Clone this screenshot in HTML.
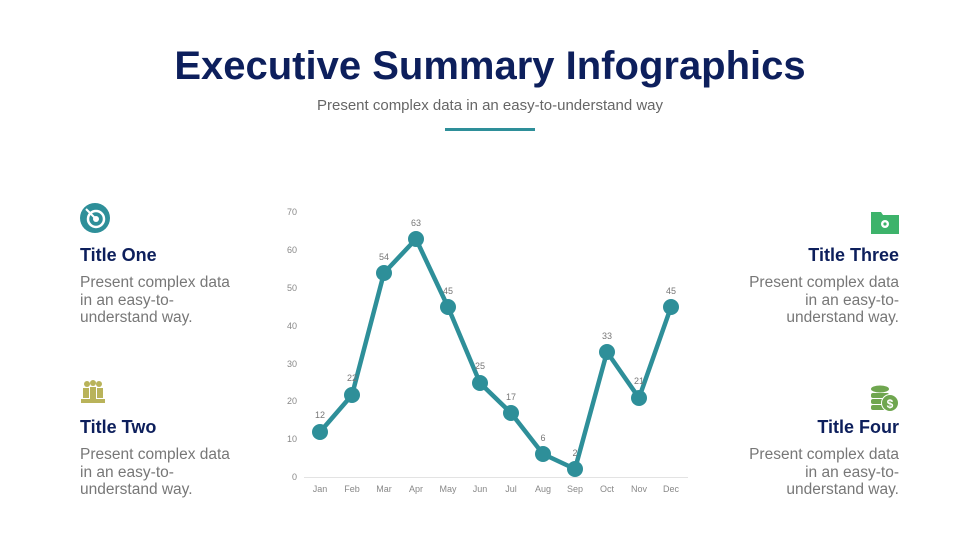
<!DOCTYPE html>
<html><head><meta charset="utf-8"><style>
body{margin:0;width:980px;height:551px;background:#fff;font-family:"Liberation Sans",sans-serif;position:relative;overflow:hidden}
.t{position:absolute;left:0;width:980px;text-align:center}
.h{position:absolute;font-weight:bold;color:#0d1f5c;font-size:18px}
.p{position:absolute;color:#777;font-size:15.5px;line-height:17.5px}
.r{text-align:right}
</style></head><body>
<div class="t" style="top:44px;font-size:40px;font-weight:bold;color:#0d1f5c">Executive Summary Infographics</div>
<div class="t" style="top:97px;font-size:15px;color:#666">Present complex data in an easy-to-understand way</div>
<div style="position:absolute;left:445px;top:128px;width:90px;height:3px;background:#2e8f99"></div>

<svg style="position:absolute;left:79px;top:202px" width="32" height="32" viewBox="0 0 32 32"><circle cx="16" cy="16" r="15" fill="#2e8f99"/><circle cx="17" cy="17" r="8" fill="none" stroke="#fff" stroke-width="2.5"/><circle cx="17" cy="17" r="3" fill="#fff"/><line x1="7" y1="7" x2="16" y2="16" stroke="#fff" stroke-width="2"/></svg>
<div class="h" style="left:80px;top:245px">Title One</div>
<div class="p" style="left:80px;top:274px">Present complex data<br>in an easy-to-<br>understand way.</div>

<svg style="position:absolute;left:80px;top:379px" width="26" height="26" viewBox="0 0 26 26" fill="#b9b35a"><circle cx="7" cy="5" r="3"/><circle cx="13" cy="4" r="3"/><circle cx="19" cy="5" r="3"/><rect x="3" y="9" width="6" height="10"/><rect x="10" y="8" width="6" height="12"/><rect x="17" y="9" width="6" height="10"/><rect x="1" y="20" width="24" height="4"/></svg>
<div class="h" style="left:80px;top:417px">Title Two</div>
<div class="p" style="left:80px;top:446px">Present complex data<br>in an easy-to-<br>understand way.</div>

<svg style="position:absolute;left:871px;top:210px" width="28" height="24" viewBox="0 0 28 24"><path d="M0 2h10l2 3h16v19H0z" fill="#3db36b"/><circle cx="14" cy="14" r="4" fill="#fff"/><circle cx="14" cy="14" r="1.6" fill="#3db36b"/></svg>
<div class="h r" style="right:81px;top:245px">Title Three</div>
<div class="p r" style="right:81px;top:274px">Present complex data<br>in an easy-to-<br>understand way.</div>

<svg style="position:absolute;left:870px;top:384px" width="30" height="30" viewBox="0 0 30 30" fill="#6fa64f"><ellipse cx="10" cy="5" rx="9" ry="3.5"/><rect x="1" y="9" width="18" height="5" rx="2"/><rect x="1" y="15" width="18" height="5" rx="2"/><rect x="1" y="21" width="18" height="5" rx="2"/><circle cx="20" cy="19" r="9" fill="#fff"/><circle cx="20" cy="19" r="8"/><text x="20" y="24" font-size="12" fill="#fff" text-anchor="middle" font-family="Liberation Sans" font-weight="bold">$</text></svg>
<div class="h r" style="right:81px;top:417px">Title Four</div>
<div class="p r" style="right:81px;top:446px">Present complex data<br>in an easy-to-<br>understand way.</div>

<svg style="position:absolute;left:0;top:0" width="980" height="551">
<g font-family="Liberation Sans" font-size="9" fill="#888" text-anchor="end">
<text x="297" y="480">0</text><text x="297" y="442">10</text><text x="297" y="404">20</text><text x="297" y="367">30</text><text x="297" y="329">40</text><text x="297" y="291">50</text><text x="297" y="253">60</text><text x="297" y="215">70</text>
</g>
<line x1="304" y1="477.5" x2="688" y2="477.5" stroke="#e3e3e3" stroke-width="1"/>
<g font-family="Liberation Sans" font-size="9" fill="#888" text-anchor="middle">
<text x="320" y="492">Jan</text><text x="352" y="492">Feb</text><text x="384" y="492">Mar</text><text x="416" y="492">Apr</text><text x="448" y="492">May</text><text x="480" y="492">Jun</text><text x="511" y="492">Jul</text><text x="543" y="492">Aug</text><text x="575" y="492">Sep</text><text x="607" y="492">Oct</text><text x="639" y="492">Nov</text><text x="671" y="492">Dec</text>
</g>
<polyline fill="none" stroke="#2e8f99" stroke-width="4.5" stroke-linejoin="round" points="320,432 352,395 384,273 416,239 448,307 480,383 511,413 543,454 575,469 607,352 639,398 671,307"/>
<g fill="#2e8f99">
<circle cx="320" cy="432" r="8"/><circle cx="352" cy="395" r="8"/><circle cx="384" cy="273" r="8"/><circle cx="416" cy="239" r="8"/><circle cx="448" cy="307" r="8"/><circle cx="480" cy="383" r="8"/><circle cx="511" cy="413" r="8"/><circle cx="543" cy="454" r="8"/><circle cx="575" cy="469" r="8"/><circle cx="607" cy="352" r="8"/><circle cx="639" cy="398" r="8"/><circle cx="671" cy="307" r="8"/>
</g>
<g font-family="Liberation Sans" font-size="9" fill="#777" text-anchor="middle">
<text x="320" y="418">12</text><text x="352" y="381">22</text><text x="384" y="260">54</text><text x="416" y="226">63</text><text x="448" y="294">45</text><text x="480" y="369">25</text><text x="511" y="400">17</text><text x="543" y="441">6</text><text x="575" y="456">2</text><text x="607" y="339">33</text><text x="639" y="384">21</text><text x="671" y="294">45</text>
</g>
</svg>
</body></html>
